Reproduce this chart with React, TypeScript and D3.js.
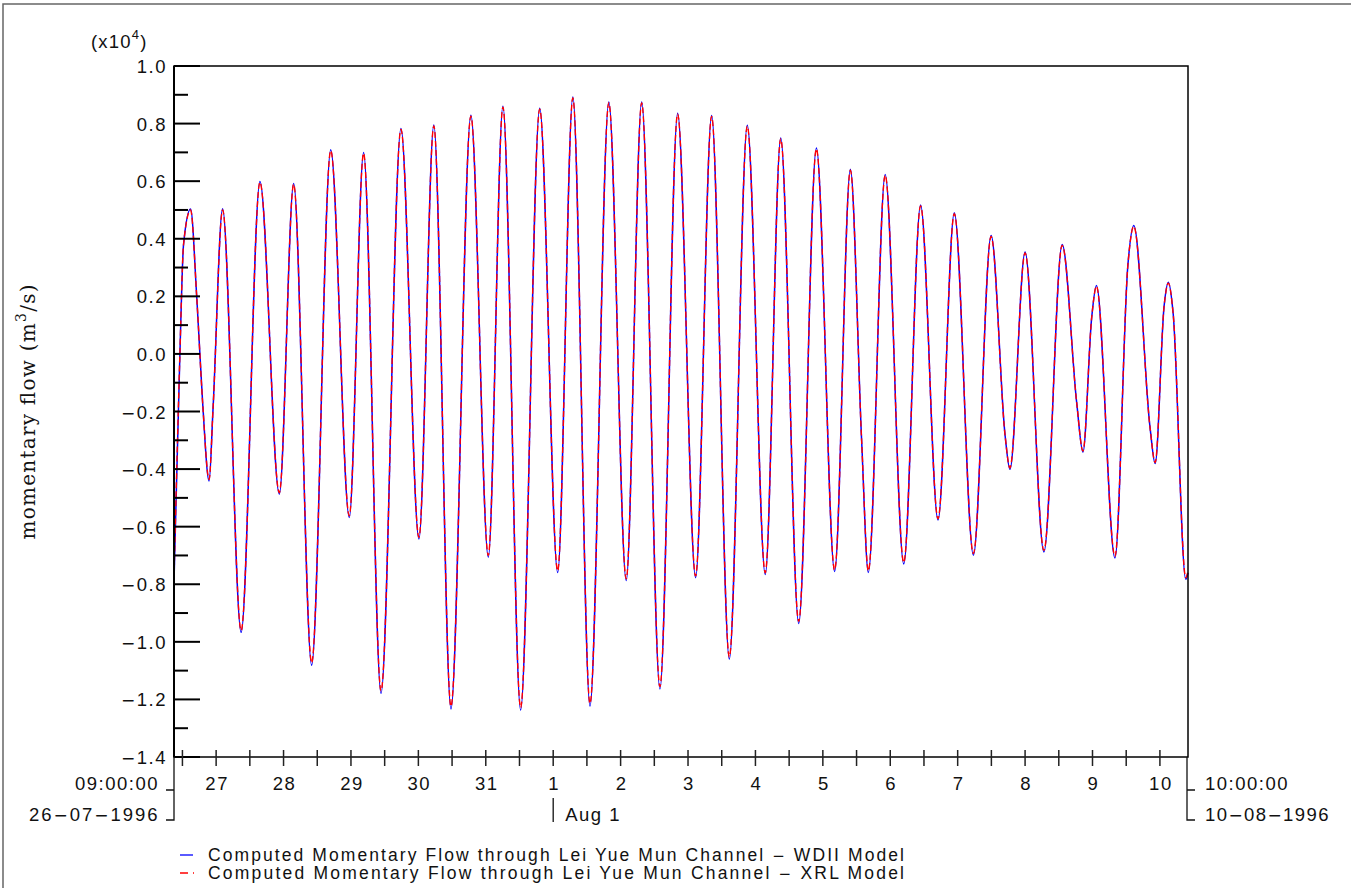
import React from "react";
import * as d3 from "d3";

// ---- data (hours after 26-07-1996 09:00, flow in 10^4 m3/s) ----
const hours = [
  0.0, 2.1, 3.4, 5.9, 8.1, 10.2, 12.5, 13.9, 17.3, 23.9, 30.6, 37.5, 42.6, 49.0, 55.8,
  62.4, 67.5, 73.7, 80.8, 87.2, 92.5, 98.6, 105.7, 111.9, 117.1, 123.4, 130.2, 136.6,
  142.0, 148.1, 154.8, 161.0, 166.5, 173.0, 179.3, 185.7, 191.4, 197.7, 204.1, 210.5,
  216.0, 222.4, 228.7, 235.2, 240.8, 244.8, 247.2, 253.2, 259.8, 265.8, 272.0, 277.8,
  284.6, 290.9, 295.9, 297.6, 303.0, 309.7, 316.2, 321.4, 323.6, 326.7, 328.4, 335.0,
  339.6, 341.7, 347.5, 349.3, 352.5, 354.0, 355.7, 360.2, 361.0,
];
const wdiiFlow = [
  -0.79, 0.0, 0.38, 0.503, 0.197, -0.17, -0.441, -0.19, 0.504, -0.967, 0.599, -0.487, 0.592,
  -1.081, 0.709, -0.568, 0.7, -1.179, 0.783, -0.643, 0.795, -1.233, 0.829, -0.706, 0.86,
  -1.237, 0.853, -0.759, 0.892, -1.223, 0.875, -0.787, 0.875, -1.164, 0.836, -0.777, 0.828,
  -1.06, 0.794, -0.766, 0.75, -0.936, 0.715, -0.756, 0.641, -0.299, -0.759, 0.623, -0.73,
  0.517, -0.577, 0.49, -0.699, 0.411, -0.285, -0.401, 0.354, -0.688, 0.38, -0.172, -0.341,
  0.125, 0.238, -0.709, 0.309, 0.446, -0.257, -0.381, 0.167, 0.249, 0.142, -0.783, -0.76,
];
const xrlFlow = [
  -0.78, 0.0, 0.38, 0.5, 0.197, -0.17, -0.436, -0.19, 0.5, -0.96, 0.596, -0.482, 0.589,
  -1.072, 0.706, -0.562, 0.697, -1.17, 0.78, -0.637, 0.792, -1.224, 0.826, -0.7, 0.857,
  -1.228, 0.85, -0.753, 0.889, -1.214, 0.872, -0.781, 0.872, -1.155, 0.833, -0.771, 0.825,
  -1.052, 0.791, -0.76, 0.747, -0.929, 0.712, -0.75, 0.638, -0.299, -0.753, 0.62, -0.724,
  0.514, -0.572, 0.487, -0.693, 0.408, -0.285, -0.396, 0.351, -0.682, 0.377, -0.172, -0.337,
  0.125, 0.235, -0.703, 0.309, 0.443, -0.257, -0.377, 0.167, 0.246, 0.142, -0.777, -0.755,
];
const yTickValues = [-1.4, -1.2, -1.0, -0.8, -0.6, -0.4, -0.2, 0.0, 0.2, 0.4, 0.6, 0.8, 1.0];
const legendLabels = [
  "Computed Momentary Flow through Lei Yue Mun Channel \u2212 WDII Model",
  "Computed Momentary Flow through Lei Yue Mun Channel \u2212 XRL Model",
];
const startDate = new Date(Date.UTC(1996, 6, 26, 9, 0, 0));
const endDate = new Date(Date.UTC(1996, 7, 10, 10, 0, 0));

const L = 174, R = 1188, T = 66, B = 757;
const FONT = "'Liberation Sans', Arial, sans-serif";
const MINUS_FONT = "'DejaVu Sans', sans-serif";
const INK = "#111";

// render a string, drawing every minus sign with a wide-minus font
function withMinus(s: string, minusSize?: number) {
  const parts = s.split("\u2212");
  const out: React.ReactNode[] = [];
  parts.forEach((p, i) => {
    if (i > 0)
      out.push(
        <tspan key={"m" + i} fontFamily={MINUS_FONT} fontSize={minusSize}>
          {"\u2212"}
        </tspan>
      );
    if (p) out.push(<tspan key={"p" + i}>{p}</tspan>);
  });
  return out;
}

export default function App() {
  const x = d3.scaleUtc().domain([startDate, endDate]).range([L, R]);
  const y = d3.scaleLinear().domain([-1.4, 1.0]).range([B, T]);
  const toDate = (h: number) => new Date(startDate.getTime() + h * 3600e3);

  const line = (vals: number[]) =>
    d3
      .line<number>()
      .x((_, i) => x(toDate(hours[i])))
      .y((v) => y(v))
      .curve(d3.curveMonotoneX)(vals) || "";

  const minorTicks = y.ticks(24).filter((v) => Math.abs(Math.round(v * 10)) % 2 === 1);
  const xTicks = d3.utcHour.every(12)!.range(startDate, endDate);
  const days = d3.utcDay.range(startDate, endDate);
  const months = d3.utcMonth.range(startDate, endDate);
  const fmtTime = d3.utcFormat("%H:%M:%S");
  const fmtDate = d3.utcFormat("%d\u2212%m\u2212%Y");
  const fmtMonth = d3.utcFormat("%b %-d");
  const fmtTick = (v: number) => (v < -1e-9 ? "\u2212" : "") + Math.abs(v).toFixed(1);

  const lab = { fontFamily: FONT, fontSize: 18.5, fill: INK, letterSpacing: 1.5 } as const;

  return (
    <svg
      width={1351}
      height={888}
      style={{ position: "absolute", left: 0, top: 0, background: "#fff" }}
    >
      <rect x={3} y={4} width={1400} height={940} fill="#fff" stroke="#666" strokeWidth={1.5} />

      {/* series */}
      <path d={line(wdiiFlow)} fill="none" stroke="#0000ff" strokeWidth={1.5} />
      <path d={line(xrlFlow)} fill="none" stroke="#ff0000" strokeWidth={1.4} strokeDasharray="6 3" />

      {/* plot box */}
      <rect x={L} y={T} width={R - L} height={B - T} fill="none" stroke="#000" strokeWidth={1.5} />
      <line x1={L} x2={L} y1={T} y2={B} stroke="#000" strokeWidth={2} />

      {/* y ticks */}
      {yTickValues.map((v) => (
        <g key={"yt" + v}>
          <line x1={L} x2={L + 26} y1={y(v)} y2={y(v)} stroke="#000" strokeWidth={2} />
          <text x={167} y={y(v) + 7} textAnchor="end" {...lab}>
            {withMinus(fmtTick(v), 17)}
          </text>
        </g>
      ))}
      {minorTicks.map((v) => (
        <line key={"ym" + v} x1={L} x2={L + 14} y1={y(v)} y2={y(v)} stroke="#000" strokeWidth={2} />
      ))}

      {/* x ticks */}
      {xTicks.map((d) => (
        <line key={"xt" + d.getTime()} x1={x(d)} x2={x(d)} y1={750} y2={766} stroke="#222" strokeWidth={1.5} />
      ))}
      {days.map((d) => (
        <text key={"dl" + d.getTime()} x={x(d) + 1} y={790} textAnchor="middle" {...lab}>
          {d.getUTCDate()}
        </text>
      ))}

      {/* start bracket */}
      <path d={`M${L},${B} V820 H166 M${L},790 H166`} fill="none" stroke="#111" strokeWidth={1.3} />
      <text x={159} y={790} textAnchor="end" {...lab}>{fmtTime(startDate)}</text>
      <text x={159} y={821} textAnchor="end" {...lab} textLength={130} lengthAdjust="spacing">
        {withMinus(fmtDate(startDate), 17)}
      </text>

      {/* end bracket */}
      <path d={`M${R - 1},${B} V820 H1195 M${R - 1},790 H1195`} fill="none" stroke="#111" strokeWidth={1.3} />
      <text x={1205} y={790} {...lab}>{fmtTime(endDate)}</text>
      <text x={1205} y={821} {...lab} textLength={125} lengthAdjust="spacing">
        {withMinus(fmtDate(endDate), 17)}
      </text>

      {/* month marker */}
      {months.map((d) => (
        <g key={"m" + d.getTime()}>
          <line x1={x(d)} x2={x(d)} y1={798} y2={822} stroke="#111" strokeWidth={1.3} />
          <text x={x(d) + 12} y={821} {...lab}>{fmtMonth(d)}</text>
        </g>
      ))}

      {/* y unit */}
      <text x={91} y={48} fontFamily={FONT} fontSize={18.5} fill={INK} letterSpacing={1.2}>
        (x10<tspan dy={-9} fontSize={13}>4</tspan><tspan dy={9}>)</tspan>
      </text>

      {/* y title */}
      <text
        transform="translate(35,412) rotate(-90)"
        textAnchor="middle"
        fontFamily="'DejaVu Serif', 'Liberation Serif', serif"
        fontSize={20}
        fill={INK}
        textLength={255}
        lengthAdjust="spacing"
      >
        momentary flow (m<tspan dy={-9} fontSize={14}>3</tspan><tspan dy={9}>/s)</tspan>
      </text>

      {/* legend */}
      <line x1={180} x2={193} y1={855} y2={855} stroke="#0000ff" strokeWidth={1.3} />
      <line x1={180} x2={196} y1={873} y2={873} stroke="#ff0000" strokeWidth={1.3} strokeDasharray="8 5 1 5" />
      {legendLabels.map((t, i) => (
        <text
          key={t}
          x={208}
          y={861 + i * 18}
          fontFamily={FONT}
          fontSize={17.5}
          fill={INK}
          textLength={696}
          lengthAdjust="spacing"
        >
          {withMinus(t, 15)}
        </text>
      ))}
    </svg>
  );
}
